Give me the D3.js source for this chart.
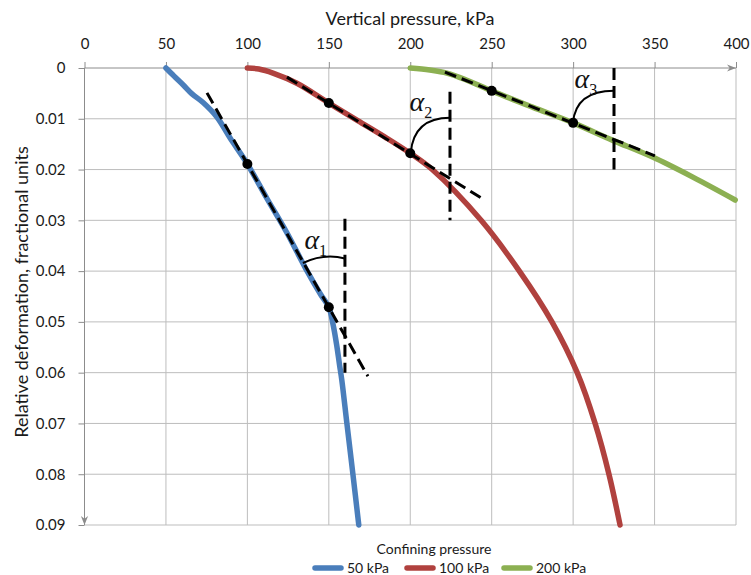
<!DOCTYPE html>
<meta charset="utf-8">
<style>
  body { margin: 0; background: #fff; }
  text { font-family: Lato, "Open Sans", sans-serif; fill: #1a1a1a; }
  .grid line { stroke: #bdbdbd; stroke-width: 1px; }
  .axis path, .axis line { stroke: #8c8c8c; stroke-width: 1px; }
  .axis text { font-size: 15px; fill: #1a1a1a; }
  .curve { fill: none; stroke-width: 5.5px; stroke-linecap: round; }
  .dash { fill: none; stroke: #000; stroke-width: 3px; stroke-dasharray: 12 6; }
  .arc { fill: none; stroke: #000; stroke-width: 2px; }
  .alpha { font-family: "Liberation Serif", "DejaVu Serif", serif; font-style: italic; fill: #111; }
</style>
<body>
<svg id="chart" width="751" height="575"></svg>
<script src="https://d3js.org/d3.v7.min.js"></script>
<script>
  // vertical pressure (kPa) / relative deformation, one pair list per confining pressure
  var blue50 = [[50, 0], [55, 0.0016], [60.5, 0.0033], [66, 0.0051], [72.8, 0.0068], [81.4, 0.0097],
    [89.4, 0.0138], [100, 0.0189], [112, 0.0257], [124, 0.0323], [136, 0.0396], [145, 0.0446],
    [150, 0.0471], [152.6, 0.0505], [154.8, 0.0545], [156.6, 0.0585], [158, 0.0615],
    [161.1, 0.07], [164.8, 0.08], [168.4, 0.09]];
  var red100 = [[100, 0], [107, 0.0002], [115.7, 0.001], [130.4, 0.003], [150, 0.0069], [168, 0.0104],
    [185, 0.0137], [200, 0.0168], [213.5, 0.02], [243.5, 0.03], [267, 0.04], [287, 0.05],
    [302.5, 0.06], [313.5, 0.07], [322, 0.08], [328.8, 0.09]];
  var green200 = [[200, 0], [212, 0.0004], [222.5, 0.001], [234.8, 0.0024], [250, 0.0045], [275, 0.0077],
    [300, 0.0108], [324, 0.0142], [348.5, 0.0175], [373.5, 0.0215], [399.5, 0.026]];

  var seriesNames = ["50 kPa", "100 kPa", "200 kPa"];
  var seriesColors = ["#4a7ebb", "#b0413e", "#8cb052"];

  // marked points on the curves
  var dots = [[100, 0.0189], [150, 0.0471], [150, 0.0069], [200, 0.0168], [250, 0.0045], [300, 0.0108]];

  // dashed secants and vertical reference lines
  var secants = [
    [[75.2, 0.0049], [174, 0.0607]],
    [[124.3, 0.0018], [244.6, 0.0258]],
    [[221.3, 0.0008], [350.2, 0.0173]]
  ];
  var verticals = [
    [[159.9, 0.0297], [159.9, 0.060]],
    [[224.4, 0.0047], [224.4, 0.030]],
    [[325.1, 0], [325.1, 0.020]]
  ];
  // angle arcs: start, control, end
  var arcs = [
    [[134.1, 0.0384], [147, 0.0364], [159.9, 0.0375]],
    [[200.3, 0.0167], [202.2, 0.0098], [224.4, 0.0098]],
    [[299.9, 0.0108], [301.7, 0.0045], [325.1, 0.0045]]
  ];
  var alphaLabels = [["1", 135, 0.0356], ["2", 199.5, 0.0085], ["3", 300.8, 0.0039]];

  var xTicks = [0, 50, 100, 150, 200, 250, 300, 350, 400];
  var yTicks = [0, 0.01, 0.02, 0.03, 0.04, 0.05, 0.06, 0.07, 0.08, 0.09];

  var svg = d3.select("#chart");

  var x = d3.scaleLinear().domain([0, 400]).range([84.5, 736]);
  var y = d3.scaleLinear().domain([0, 0.09]).range([68, 525]);

  var defs = svg.append("defs");
  defs.append("marker")
    .attr("id", "arrow")
    .attr("viewBox", "0 0 10 10")
    .attr("refX", 10).attr("refY", 5)
    .attr("markerWidth", 9).attr("markerHeight", 9)
    .attr("markerUnits", "userSpaceOnUse")
    .attr("orient", "auto")
    .append("path")
    .attr("d", "M0,1 L10,5 L0,9 L3,5 Z")
    .attr("fill", "#8c8c8c");

  // grid lines
  var grid = svg.append("g").attr("class", "grid");
  grid.selectAll(".gx").data(xTicks.slice(1)).enter().append("line")
    .attr("x1", function (d) { return x(d); }).attr("x2", function (d) { return x(d); })
    .attr("y1", y(0)).attr("y2", y(0.09));
  grid.selectAll(".gy").data(yTicks.slice(1)).enter().append("line")
    .attr("x1", x(0)).attr("x2", x(400))
    .attr("y1", function (d) { return y(d); }).attr("y2", function (d) { return y(d); });

  // axes (top and left), domain drawn with arrows
  var xAxis = svg.append("g").attr("class", "axis")
    .attr("transform", "translate(0," + y(0) + ")")
    .call(d3.axisTop(x).tickValues(xTicks).tickSizeInner(6).tickSizeOuter(0).tickPadding(13));
  xAxis.select(".domain").remove();
  xAxis.append("line").attr("x1", x(0)).attr("x2", x(400)).attr("y1", 0).attr("y2", 0)
    .attr("marker-end", "url(#arrow)");

  var yAxis = svg.append("g").attr("class", "axis")
    .attr("transform", "translate(" + x(0) + ",0)")
    .call(d3.axisLeft(y).tickValues(yTicks).tickSizeInner(6).tickSizeOuter(0).tickPadding(13)
      .tickFormat(function (d) { return d === 0 ? "0" : d3.format(".2f")(d); }));
  yAxis.select(".domain").remove();
  yAxis.append("line").attr("x1", 0).attr("x2", 0).attr("y1", y(0)).attr("y2", y(0.09))
    .attr("marker-end", "url(#arrow)");

  // axis titles
  svg.append("text")
    .attr("x", 410).attr("y", 25)
    .attr("text-anchor", "middle")
    .style("font-size", "18px")
    .text("Vertical pressure,  kPa");
  svg.append("text")
    .attr("transform", "translate(28," + 292 + ") rotate(-90)")
    .attr("text-anchor", "middle")
    .style("font-size", "18px")
    .text("Relative deformation,  fractional units");

  // curves
  var line = d3.line()
    .x(function (d) { return x(d[0]); })
    .y(function (d) { return y(d[1]); })
    .curve(d3.curveCatmullRom.alpha(0.5));

  [blue50, red100, green200].forEach(function (s, i) {
    svg.append("path").attr("class", "curve")
      .attr("d", line(s))
      .attr("stroke", seriesColors[i]);
  });

  var straight = d3.line()
    .x(function (d) { return x(d[0]); })
    .y(function (d) { return y(d[1]); });

  secants.concat(verticals).forEach(function (s) {
    svg.append("path").attr("class", "dash").attr("d", straight(s));
  });

  arcs.forEach(function (a) {
    var p = d3.path();
    p.moveTo(x(a[0][0]), y(a[0][1]));
    p.quadraticCurveTo(x(a[1][0]), y(a[1][1]), x(a[2][0]), y(a[2][1]));
    svg.append("path").attr("class", "arc").attr("d", p.toString());
  });

  svg.selectAll(".dot").data(dots).enter().append("circle")
    .attr("class", "dot")
    .attr("cx", function (d) { return x(d[0]); })
    .attr("cy", function (d) { return y(d[1]); })
    .attr("r", 5)
    .attr("fill", "#000");

  alphaLabels.forEach(function (l) {
    var t = svg.append("text").attr("class", "alpha")
      .attr("x", x(l[1])).attr("y", y(l[2]));
    t.append("tspan").style("font-size", "28px").text("\u03b1");
    t.append("tspan").attr("dy", 7).style("font-size", "16px").style("font-style", "normal").text(l[0]);
  });

  // legend
  svg.append("text")
    .attr("x", 434).attr("y", 554)
    .attr("text-anchor", "middle")
    .style("font-size", "14px")
    .text("Confining pressure");

  var legendX = [313, 405, 502];
  seriesNames.forEach(function (name, i) {
    var g = svg.append("g").attr("transform", "translate(" + legendX[i] + ",568)");
    g.append("line").attr("x1", 2).attr("x2", 28).attr("y1", 0).attr("y2", 0)
      .attr("stroke", seriesColors[i]).attr("stroke-width", 5.5).attr("stroke-linecap", "round");
    g.append("text").attr("x", 34).attr("y", 5).style("font-size", "14px").text(name);
  });
</script>
</body>
